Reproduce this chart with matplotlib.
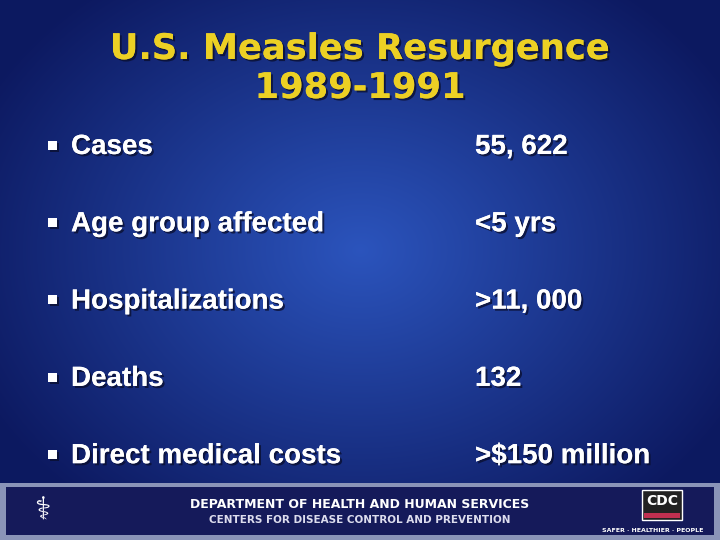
import numpy as np
import matplotlib
matplotlib.use("Agg")
import matplotlib.pyplot as plt
import matplotlib.patheffects as pe
from matplotlib.patches import Rectangle

title_lines = ["U.S. Measles Resurgence", "1989-1991"]
items = ["Cases", "Age group affected", "Hospitalizations", "Deaths", "Direct medical costs"]
values = ["55, 622", "<5 yrs", ">11, 000", "132", ">$150 million"]
footer1 = "DEPARTMENT OF HEALTH AND HUMAN SERVICES"
footer2 = "CENTERS FOR DISEASE CONTROL AND PREVENTION"

W, H = 720, 540
fig = plt.figure(figsize=(7.2, 5.4), dpi=100)
ax = fig.add_axes([0, 0, 1, 1])
ax.set_xlim(0, W); ax.set_ylim(H, 0); ax.axis("off")

yy, xx = np.mgrid[0:H, 0:W]
d = np.sqrt(((xx - 360) / 420.0) ** 2 + ((yy - 250) / 330.0) ** 2)
d = np.clip(d, 0, 1)
c_in = np.array([0.17, 0.33, 0.74]); c_out = np.array([0.05, 0.10, 0.38])
img = c_in[None, None, :] * (1 - d[..., None]) + c_out[None, None, :] * d[..., None]
ax.imshow(img, extent=[0, W, H, 0], aspect="auto", zorder=0)

sh = [pe.withSimplePatchShadow(offset=(1.5, -1.5), shadow_rgbFace="#0a0f30", alpha=0.8), pe.Normal()]
for i, t in enumerate(title_lines):
    ax.text(360, 49 + i * 39, t, ha="center", va="center", fontsize=25.4, fontweight="bold",
            color="#ecd024", family="DejaVu Sans", path_effects=sh)

for i, (a, b) in enumerate(zip(items, values)):
    y = 147 + i * 77.3
    ax.text(46, y - 2, "\u25aa", ha="left", va="center", fontsize=13, color="white", path_effects=sh)
    ax.text(71, y, a, ha="left", va="center", fontsize=20, fontweight="bold",
            color="white", family="Liberation Sans", path_effects=sh)
    ax.text(475, y, b, ha="left", va="center", fontsize=20, fontweight="bold",
            color="white", family="Liberation Sans", path_effects=sh)

ax.add_patch(Rectangle((0, 483), W, 57, facecolor="#8a94b8", zorder=2))
ax.add_patch(Rectangle((6, 487), W - 12, 48, facecolor="#151a5a", zorder=3))
ax.text(360, 505, footer1, ha="center", va="center", fontsize=9, fontweight="bold",
        color="white", family="Liberation Sans Narrow", zorder=4)
ax.text(360, 520, footer2, ha="center", va="center", fontsize=7.5, fontweight="bold",
        color="#dde", family="DejaVu Sans", zorder=4)
ax.add_patch(Rectangle((642, 490), 40, 30, facecolor="#222", edgecolor="white", lw=1, zorder=4))
ax.text(662, 501, "CDC", ha="center", va="center", fontsize=10, fontweight="bold", color="white", zorder=5)
ax.add_patch(Rectangle((644, 513), 36, 5, facecolor="#c03050", zorder=5))
ax.text(653, 530, "SAFER · HEALTHIER · PEOPLE", ha="center", va="center", fontsize=4.5,
        fontweight="bold", color="white", zorder=4)
ax.text(42, 511, "\u2695", ha="center", va="center", fontsize=22, color="white", zorder=4)

fig.savefig("out.png", dpi=100)
